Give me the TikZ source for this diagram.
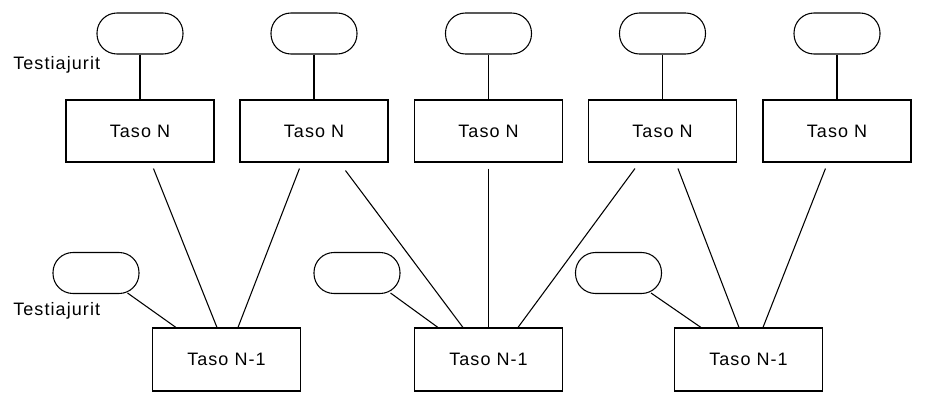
\documentclass[tikz,border=0pt]{standalone}
\usepackage{fontspec}
\setmainfont{Liberation Sans}[LetterSpace=6]
\usetikzlibrary{calc}
\begin{document}
\begin{tikzpicture}[x=0.75pt,y=-0.75pt,
  every node/.style={font=\fontsize{13.5}{16}\selectfont},
  lvl/.style={draw,line width=0.8pt,inner sep=0pt,minimum width=111pt,minimum height=46.5pt},
  drv/.style={draw,line width=0.8pt,inner sep=0pt,rounded corners=15pt,minimum width=64.5pt,minimum height=30.75pt},
  conn/.style={line width=0.8pt},
  lbl/.style={anchor=west,inner sep=0pt}]
\useasboundingbox (0,0) rectangle (930,398);
% top level boxes
\node[lvl] (t1) at (140,131) {Taso N};
\node[lvl] (t2) at (314,131) {Taso N};
\node[lvl] (t3) at (488.5,131) {Taso N};
\node[lvl] (t4) at (662.5,131) {Taso N};
\node[lvl] (t5) at (837,131) {Taso N};
% top drivers
\node[drv] (d1) at (140,33.5) {};
\node[drv] (d2) at (314,33.5) {};
\node[drv] (d3) at (488.5,33.5) {};
\node[drv] (d4) at (662.5,33.5) {};
\node[drv] (d5) at (837,33.5) {};
\foreach \i in {1,...,5} {\draw[conn] (d\i.south) -- (t\i.north);}
% bottom level boxes
\node[lvl,minimum height=47.25pt] (b1) at (226.5,359.5) {Taso N-1};
\node[lvl,minimum height=47.25pt] (b2) at (488.5,359.5) {Taso N-1};
\node[lvl,minimum height=47.25pt] (b3) at (748.5,359.5) {Taso N-1};
% bottom drivers
\node[drv] (e1) at (96,273) {};
\node[drv] (e2) at (357,273) {};
\node[drv] (e3) at (618.5,273) {};
% labels
\node[lbl] (l1) at (13,65) {Testiajurit};
\node[lbl] (l2) at (13,311) {Testiajurit};
% driver to lower boxes
\draw[conn] ($(e1.south east)+(-12,-1)$) -- ($(b1.north west)+(24,0)$);
\draw[conn] ($(e2.south east)+(-10,-1)$) -- ($(b2.north west)+(24,0)$);
\draw[conn] ($(e3.south east)+(-11,-1)$) -- ($(b3.north west)+(27,0)$);
% upper to lower
\draw[conn] ($(t1.south west)+(88,6)$) -- ($(b1.north west)+(65,0)$);
\draw[conn] ($(t2.south west)+(60,6)$) -- ($(b1.north west)+(86,0)$);
\draw[conn] ($(t2.south west)+(106,8)$) -- ($(b2.north west)+(49,0)$);
\draw[conn] ($(t3.south)+(0,6)$) -- (b2.north);
\draw[conn] ($(t4.south west)+(47,6)$) -- ($(b2.north west)+(104,0)$);
\draw[conn] ($(t4.south west)+(90,6)$) -- ($(b3.north west)+(65,0)$);
\draw[conn] ($(t5.south west)+(63,6)$) -- ($(b3.north west)+(89,0)$);
\end{tikzpicture}
\end{document}
